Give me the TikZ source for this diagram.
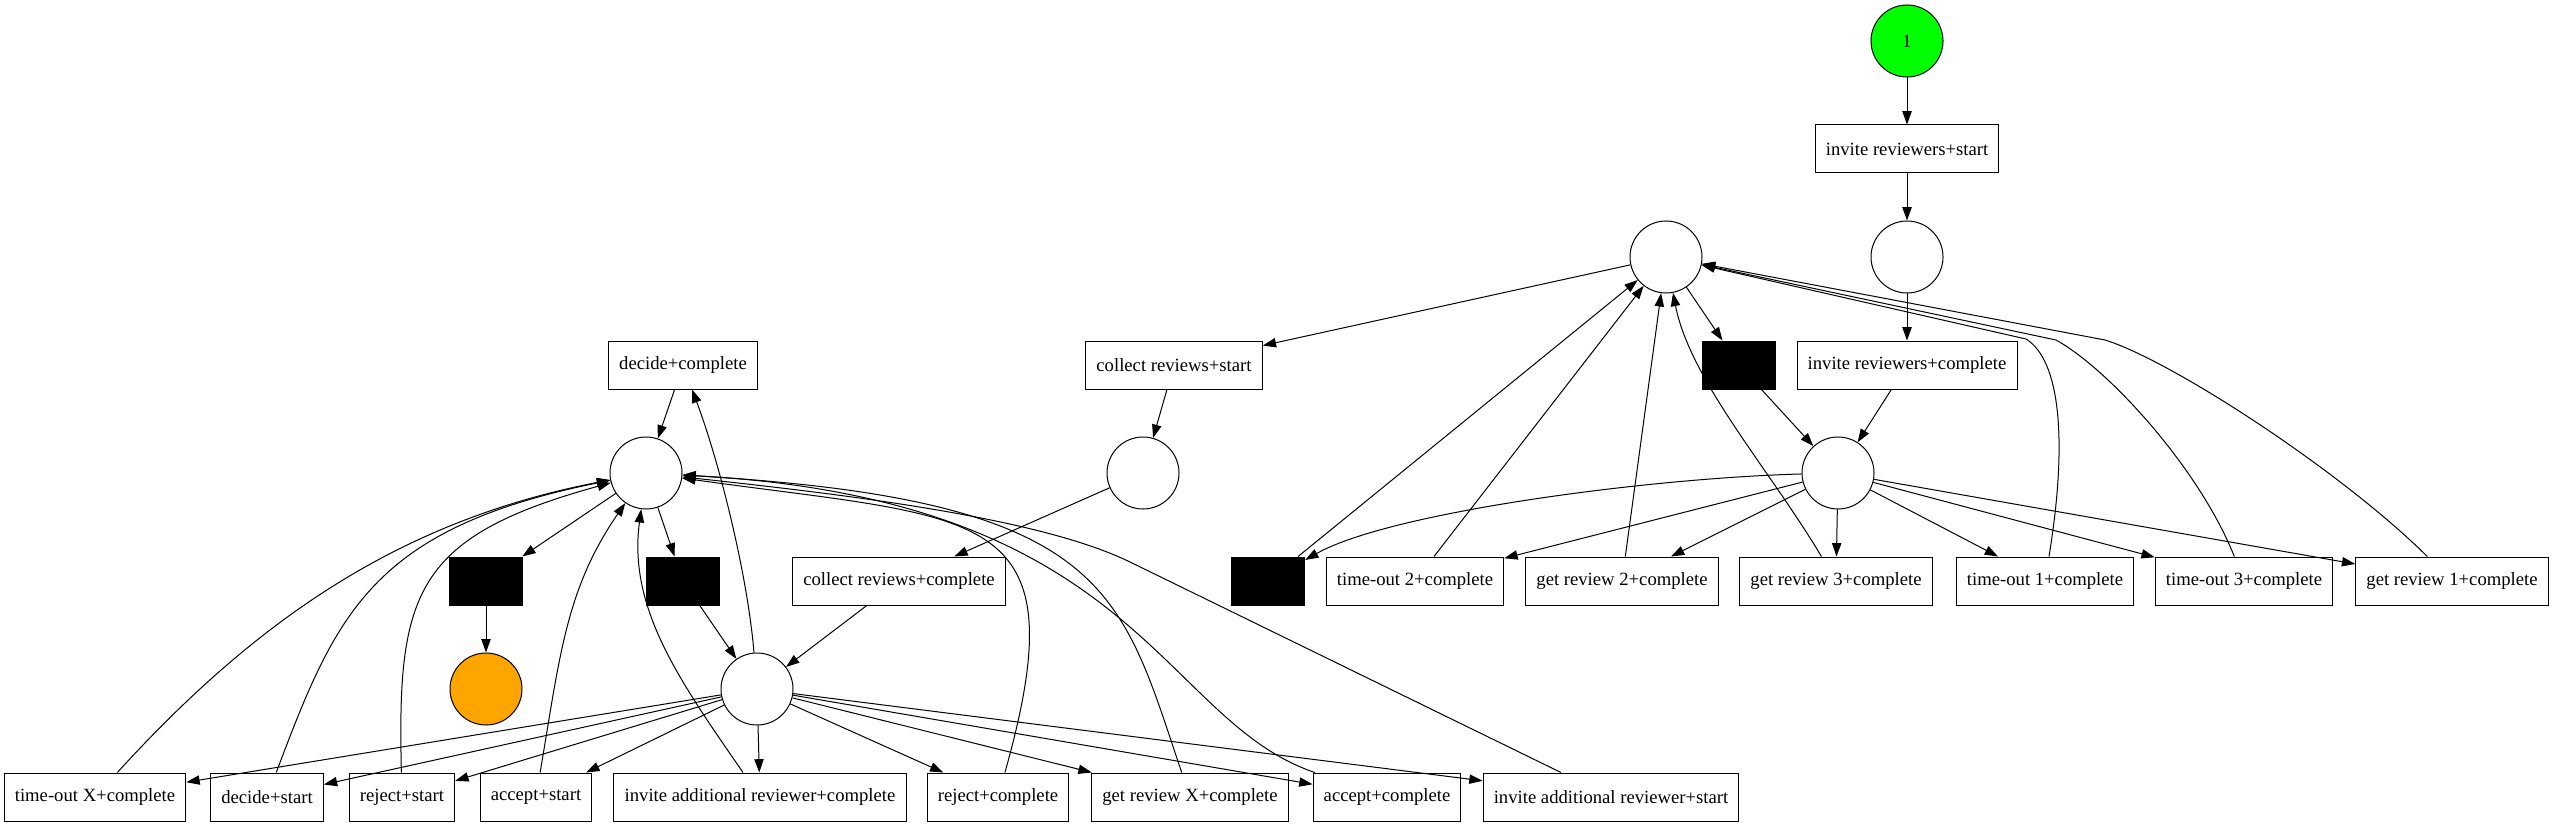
\documentclass[tikz,border=0pt]{standalone}
\usepackage{fontspec}
\setmainfont{Liberation Serif}
\usepackage{tikz}
\usetikzlibrary{arrows.meta}
\definecolor{startgreen}{HTML}{00FF00}
\definecolor{endorange}{HTML}{FFA500}
\tikzset{
    place/.style={shape=circle, draw=black, minimum size=54pt, inner sep=0pt, font=\fontsize{14pt}{16pt}\selectfont},
    trans/.style={shape=rectangle, draw=black, minimum height=36pt, inner xsep=8pt, font=\fontsize{14pt}{16pt}\selectfont},
    silent/.style={shape=rectangle, draw=black, fill=black, minimum width=55pt, minimum height=36pt}}

\begin{document}
\begin{tikzpicture}[x=0.75pt, y=-0.75pt, line width=0.75pt, >={Triangle[length=10pt,width=7pt]}]
        \useasboundingbox (0,0) rectangle (2555,827);

            % places
            \node[place, fill=startgreen] (P1) at (1907,41) {1};
            \node[place] (P2) at (1907,257) {};
            \node[place] (P3) at (1666,257) {};
            \node[place] (P4) at (1838,473) {};
            \node[place] (P5) at (1143,473) {};
            \node[place] (P6) at (646,473) {};
            \node[place] (P7) at (757,689) {};
            \node[place, fill=endorange] (P8) at (486,689) {};

            % transitions
            \node[trans] (T1) at (1907,149) {invite reviewers+start};
            \node[trans] (T2) at (1907,365) {invite reviewers+complete};
            \node[silent] (T3) at (1739,365) {};
            \node[trans] (T4) at (1174,365) {collect reviews+start};
            \node[silent] (T5) at (1268,581) {};
            \node[trans] (T6) at (1415,581) {time-out 2+complete};
            \node[trans] (T7) at (1622,581) {get review 2+complete};
            \node[trans] (T8) at (1836,581) {get review 3+complete};
            \node[trans] (T9) at (2045,581) {time-out 1+complete};
            \node[trans] (T10) at (2244,581) {time-out 3+complete};
            \node[trans] (T11) at (2452,581) {get review 1+complete};
            \node[trans] (T12) at (683,365) {decide+complete};
            \node[silent] (T13) at (486,581) {};
            \node[silent] (T14) at (683,581) {};
            \node[trans] (T15) at (899,581) {collect reviews+complete};
            \node[trans] (T16) at (95,797) {time-out X+complete};
            \node[trans] (T17) at (267,797) {decide+start};
            \node[trans] (T18) at (402,797) {reject+start};
            \node[trans] (T19) at (536,797) {accept+start};
            \node[trans] (T20) at (760,797) {invite additional reviewer+complete};
            \node[trans] (T21) at (998,797) {reject+complete};
            \node[trans] (T22) at (1190,797) {get review X+complete};
            \node[trans] (T23) at (1387,797) {accept+complete};
            \node[trans] (T24) at (1611,797) {invite additional reviewer+start};

            % review part
            \draw[->] (P1) -- (T1);
            \draw[->] (T1) -- (P2);
            \draw[->] (P2) -- (T2);
            \draw[->] (T2) -- (P4);
            \draw[->] (P3) -- (T3);
            \draw[->] (T3) -- (P4);
            \draw[->] (P3) -- (T4);
            \draw[->] (T4) -- (P5);
            \draw[->] (P5) -- (T15);
            \draw[->] (T15) -- (P7);
            \draw[->] (P4) .. controls (1650,478) and (1390,512) .. (T5);
            \draw[->] (P4) -- (T6);
            \draw[->] (P4) -- (T7);
            \draw[->] (P4) -- (T8);
            \draw[->] (P4) -- (T9);
            \draw[->] (P4) -- (T10);
            \draw[->] (P4) -- (T11);
            \draw[->] (T5) -- (P3);
            \draw[->] (T6) -- (P3);
            \draw[->] (T7) -- (P3);
            \draw[->] (T8) .. controls (1770,470) and (1690,380) .. (P3);
            \draw[->] (T9) .. controls (2068,440) and (2060,360) .. (2026,339) -- (P3);
            \draw[->] (T10) .. controls (2200,470) and (2110,370) .. (2056,340) -- (P3);
            \draw[->] (T11) .. controls (2340,470) and (2170,360) .. (2105,340) -- (P3);

            % decision part
            \draw[->] (T12) -- (P6);
            \draw[->] (P6) -- (T13);
            \draw[->] (P6) -- (T14);
            \draw[->] (T13) -- (P8);
            \draw[->] (T14) -- (P7);
            \draw[->] (P7) .. controls (748,580) and (722,470) .. (T12);
            \draw[->] (P7) -- (T16);
            \draw[->] (P7) -- (T17);
            \draw[->] (P7) -- (T18);
            \draw[->] (P7) -- (T19);
            \draw[->] (P7) -- (T20);
            \draw[->] (P7) -- (T21);
            \draw[->] (P7) -- (T22);
            \draw[->] (P7) -- (T23);
            \draw[->] (P7) -- (T24);
            \draw[->] (T16) .. controls (250,627) and (393,522) .. (P6);
            \draw[->] (T17) .. controls (336,614) and (371,529) .. (P6);
            \draw[->] (T18) .. controls (397,593) and (414,537) .. (P6);
            \draw[->] (T19) .. controls (560,655) and (566,589) .. (P6);
            \draw[->] (T20) .. controls (679,680) and (628,608) .. (P6);
            \draw[->] (T21) .. controls (1081,503) and (981,520) .. (P6);
            \draw[->] (T22) .. controls (1120,590) and (1110,500) .. (P6);
            \draw[->] (T23) .. controls (1160,720) and (1140,500) .. (P6);
            \draw[->] (T24) -- (1130,562) .. controls (1040,518) and (850,495) .. (P6);

        \end{tikzpicture}
\end{document}
